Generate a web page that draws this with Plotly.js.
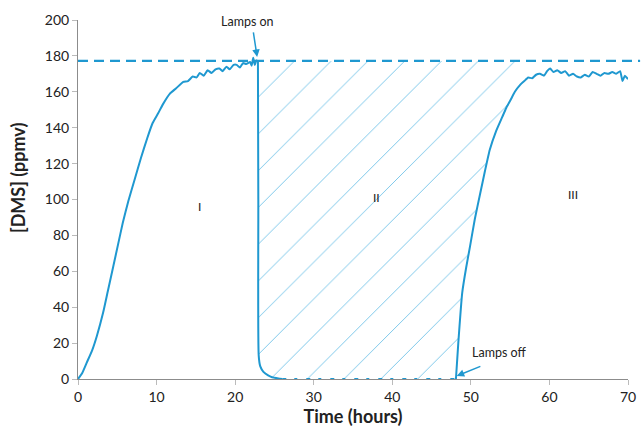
<!DOCTYPE html>
<html><head><meta charset="utf-8">
<script src="https://cdn.plot.ly/plotly-3.0.1.min.js"></script>
<style>html,body{margin:0;padding:0;background:#fff}#chart{width:643px;height:429px}</style>
</head><body><div id="chart"></div>
<script>
// Phase I: lamps off, DMS fills up
const t1 = [0,0.5,1.1,1.8,2.4,3.2,3.8,4.5,5.1,5.7,6.4,7.2,8,8.8,9.5,10.2,10.8,11.7,12.5,13.4,14,14.6,15.1,15.5,16,16.5,17,17.5,18,18.4,18.9,19.3,19.8,20.2,20.6,21,21.4,21.9,22.1,22.3,22.5,22.7,22.9];
const v1 = [0,3,9,16,24,37,49,63,75,87,99,111,123,134,142.6,148,153,159,162,165.5,166,168.5,168,170.5,169,172,170.5,172.5,173,171.5,174,172.5,175,175,173.5,176,175.5,176.6,174.5,179,175,177.5,177];
// Phase II: lamps on, DMS drops to zero
const t2 = [22.9,22.95,23.0,23.2,23.6,24.2,24.7,25.5,26];
const v2 = [177,100,13,7,4,2,1,0.3,0];
const t2z = [26,48.1];
const v2z = [0,0];
// Phase III: lamps off again
const t3 = [48.1,48.4,48.9,49.4,49.9,50.5,51.2,51.8,52.4,53.2,54,54.5,55,55.6,56.3,56.8,57.3,57.8,58.3,58.8,59.3,59.7,60.1,60.5,61,61.5,62,62.5,63,63.5,64,64.5,65,65.5,66,66.5,67,67.5,68,68.5,69,69.3,69.6,70];
const v3 = [0,20,48,62,74,89,103.6,116,127.6,138,146,151,155,160,164,166,168,167.5,169.5,170,169,171.5,173,171,172,170.5,171.5,169,170,168.5,168,169.5,168.5,171,170,169,170.5,170,171,170,171.5,166,169,167];
const plateau = 177.2;
const phaseLabels = ['I','II','III'];
const phaseX = [15.5,38,63];
const phaseY = [96,101,103];

const blue = '#1f98d0';
const nH = t3.filter(t=>t<=57.3).length;
const hatchX = [22.9].concat(t2.slice(1), t3.slice(0,nH), [57.3]);
const hatchY = [plateau].concat(v2.slice(1), v3.slice(0,nH), [plateau]);

const traces = [
  {x: hatchX, y: hatchY, type:'scatter', mode:'lines', fill:'toself', line:{width:0, color:'rgba(0,0,0,0)'},
   fillcolor:'rgba(0,0,0,0)', fillpattern:{shape:'/', fgcolor:'#5ab8e4', bgcolor:'rgba(0,0,0,0)', size:26, solidity:0.03}, hoverinfo:'skip'},
  {x: t1, y: v1, type:'scatter', mode:'lines', line:{color:blue, width:2, shape:'spline', smoothing:0.5}},
  {x: t2, y: v2, type:'scatter', mode:'lines', line:{color:blue, width:2, shape:'spline', smoothing:0.6}},
  {x: t2z, y: v2z, type:'scatter', mode:'lines', line:{color:blue, width:2, dash:'4px,8px,3px,9px'}},
  {x: t3, y: v3, type:'scatter', mode:'lines', line:{color:blue, width:2, shape:'spline', smoothing:0.4}},
];

const font = 'Lato, "Open Sans", sans-serif';
const layout = {
  width:643, height:429, showlegend:false,
  paper_bgcolor:'#fff', plot_bgcolor:'#fff',
  margin:{l:78, r:15, t:20, b:50},
  font:{family:font, size:14, color:'#222'},
  xaxis:{range:[0,70], dtick:10, showgrid:false, zeroline:false, showline:true, linecolor:'#8c8c8c', linewidth:1,
         ticks:'outside', ticklen:5, tickcolor:'#bbb', tickfont:{size:14, color:'#222'},
         title:{text:'Time (hours)', font:{size:18, color:'#222', family:font, weight:'bold'}, standoff:4}},
  yaxis:{range:[0,200], dtick:20, showgrid:false, zeroline:false, showline:true, linecolor:'#8c8c8c', linewidth:1,
         ticks:'outside', ticklen:5, tickcolor:'#bbb', tickfont:{size:14, color:'#222'}},
  shapes:[
    {type:'line', xref:'paper', yref:'y', x0:0, x1:1.022, y0:plateau, y1:plateau, line:{color:blue, width:2.2, dash:'10px,6px'}}
  ],
  annotations:[
    {xref:'paper', yref:'paper', x:-0.109, y:0.56, text:'<b>[DMS] (ppmv)</b>', textangle:-90, showarrow:false,
     xanchor:'center', yanchor:'middle', font:{size:18, color:'#222', family:font}},
    {x:21.6, y:199, text:'Lamps on', showarrow:false, font:{size:12.5, color:'#222'}, xanchor:'center', yanchor:'middle'},
    {x:22.8, y:179.4, ax:-4, ay:-26, text:'', showarrow:true, arrowhead:2, arrowsize:1, arrowwidth:1.5, arrowcolor:blue},
    {x:49.9, y:15, text:'Lamps off', showarrow:false, font:{size:12.5, color:'#222'}, xanchor:'left', yanchor:'middle'},
    {x:48.2, y:1.7, axref:'x', ayref:'y', ax:51.4, ay:7.4, text:'', showarrow:true, arrowhead:2, arrowsize:1, arrowwidth:1.5, arrowcolor:blue},
  ].concat(phaseLabels.map((s,i)=>({x:phaseX[i], y:phaseY[i], text:s, showarrow:false, font:{size:12, color:'#222'}})))
};
Plotly.newPlot('chart', traces, layout, {staticPlot:true});
</script></body></html>
